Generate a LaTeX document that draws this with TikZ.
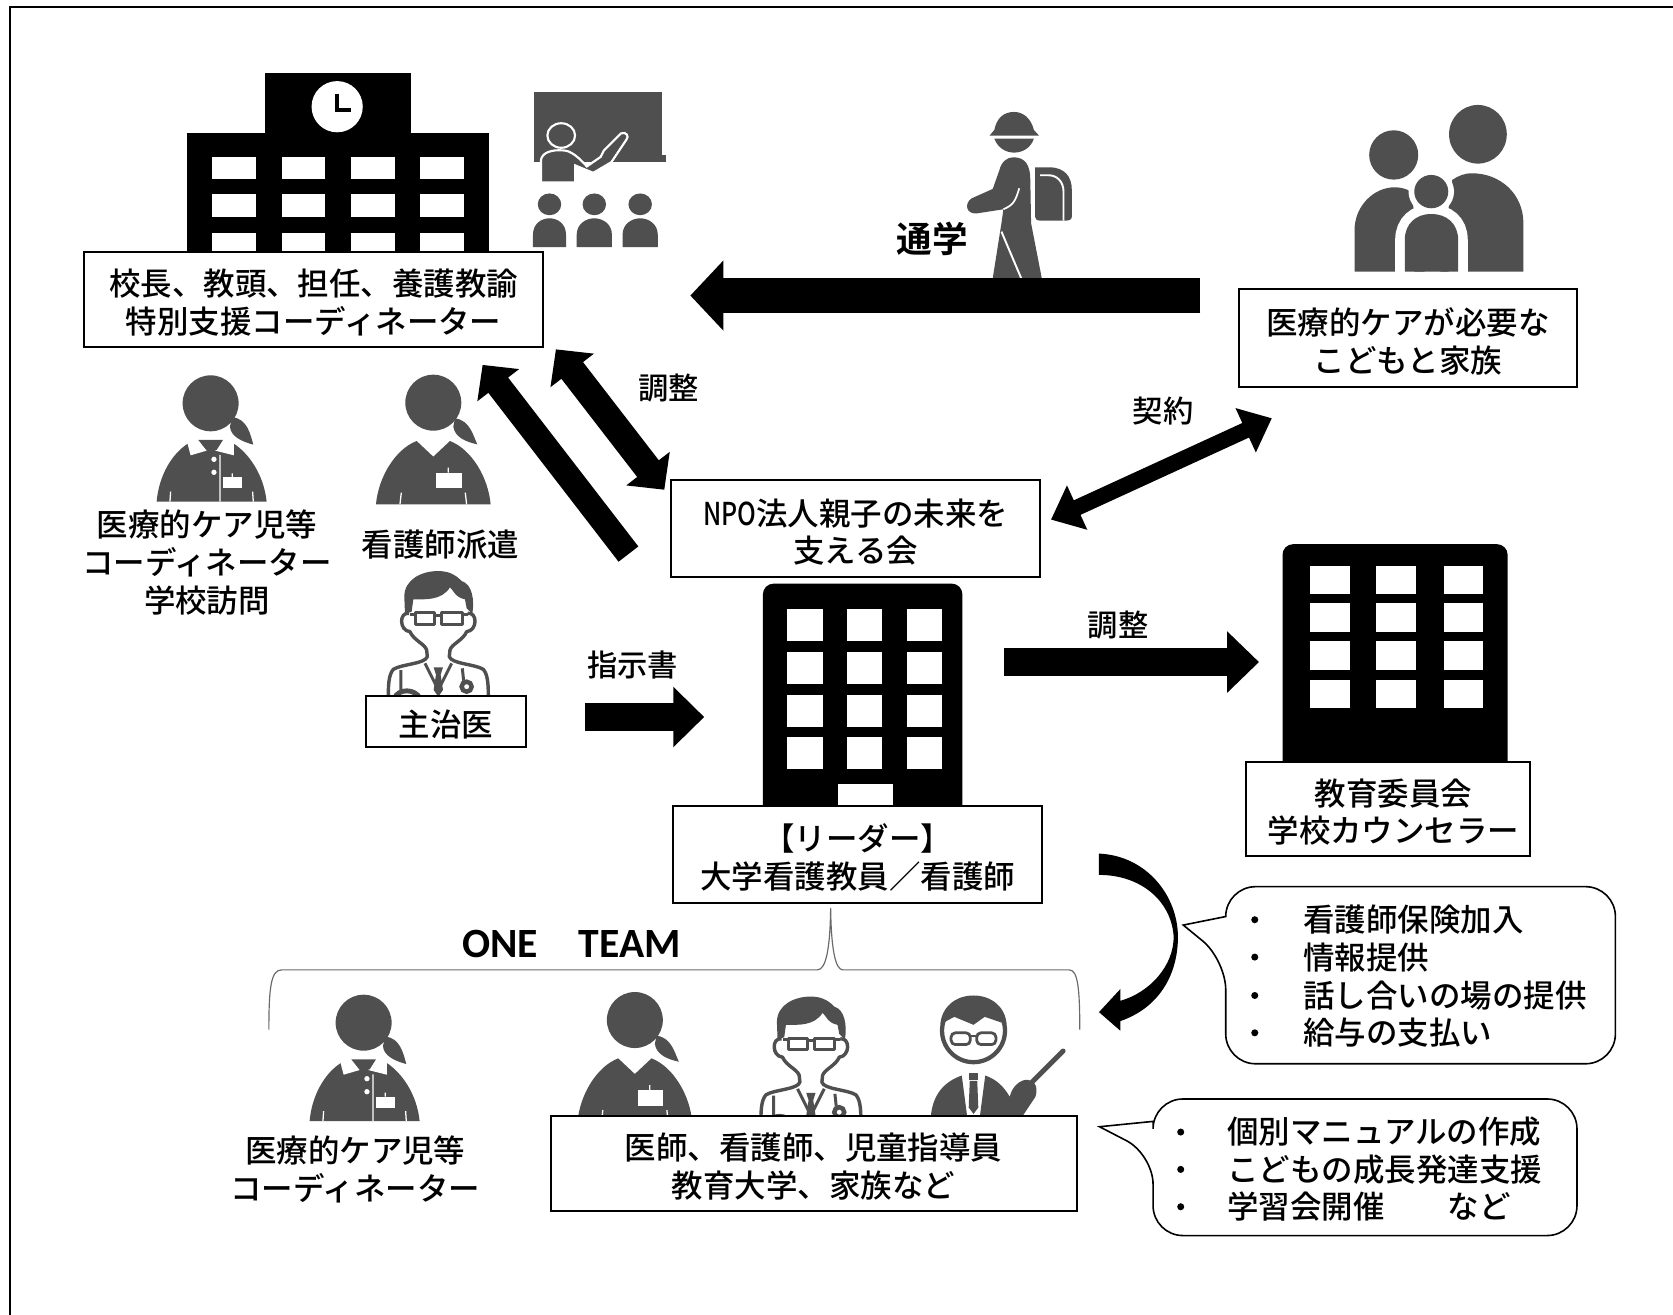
\documentclass[tikz,border=0pt]{standalone}
\usepackage{fontspec}
\usetikzlibrary{arrows.meta}
\newfontfamily\jp{Noto Sans CJK JP Medium}
\newfontfamily\jpb{Noto Sans CJK JP Bold}
\newfontfamily\latinb{Carlito Bold}
\definecolor{ic}{HTML}{4F4F4F}
\definecolor{bracec}{HTML}{6A6A6A}
\newcommand{\dn}{\rule{0pt}{15.6pt}}
\tikzset{
  txt/.style={font=\jp\fontsize{14.75}{17.75}\selectfont,align=center,inner sep=0pt,text=black},
  lab/.style={font=\jp\fontsize{14.2}{17}\selectfont,inner sep=0pt},
  boxn/.style={draw=black,fill=white,line width=0.9pt,inner sep=0pt,font=\jp\fontsize{14.75}{17.75}\selectfont,align=center},
  barrowbase/.style={line cap=butt,draw=black},
  bubble/.style={draw=black,fill=white,line width=0.75pt},
  whiteline/.style={draw=white,line width=0.6pt},
  nursev/.pic={
    \begin{scope}[scale=.3124]
    \fill[ic] (0,0) circle[radius=84];
    \fill[ic] (65,47) .. controls (110,52) and (120,100) .. (132,125) .. controls (100,118) and (65,105) .. (60,72) -- cycle;
    \fill[ic] (-172,305) .. controls (-165,225) and (-115,140) .. (-50,115) -- (0,162) -- (50,115) .. controls (115,140) and (165,225) .. (172,305) -- cycle;
    \draw[whiteline] (-100,305) -- (-96,270) (100,305) -- (96,270) (45,195) -- (45,210);
    \fill[white] (8,210) rectangle (85,257);
    \end{scope}
  },
  nursec/.pic={
    \begin{scope}[scale=.3124]
    \fill[ic] (0,0) circle[radius=84];
    \fill[ic] (65,42) .. controls (110,45) and (120,95) .. (128,124) .. controls (95,115) and (60,100) .. (58,70) -- cycle;
    \fill[ic] (-162,295) .. controls (-155,215) and (-115,150) .. (-67,120) -- (68,120) .. controls (115,150) and (160,215) .. (168,295) -- cycle;
    \fill[white] (-70,118) -- (-38,108) -- (-12,142) -- (-60,156) -- cycle;
    \fill[white] (70,118) -- (38,108) -- (14,142) -- (70,156) -- cycle;
    \fill[white] (-40,108) rectangle (40,120);
    \fill[ic] (-37,110) -- (37,110) -- (18,140) -- (-12,140) -- cycle;
    \fill[white] (10,168) circle[radius=8] (10,207) circle[radius=8];
    \draw[whiteline] (28,155) -- (28,295) (65,210) -- (65,222) (-122,295) -- (-120,265) (128,295) -- (126,265);
    \fill[white] (38,222) rectangle (93,255);
    \end{scope}
  },
  doctor/.pic={
    \begin{scope}[scale=.3124]
    \draw[ic,line width=1.6pt,line join=round,fill=white] (-88,20) .. controls (-118,15) and (-118,72) .. (-85,75) .. controls (-75,100) and (-40,112) .. (-35,130) -- (-33,150) .. controls (-40,172) and (-110,172) .. (-135,188) .. controls (-150,205) and (-150,240) .. (-150,275) -- (150,275) .. controls (150,240) and (150,205) .. (135,188) .. controls (110,172) and (40,172) .. (33,150) -- (35,130) .. controls (40,112) and (75,100) .. (85,75) .. controls (118,72) and (118,15) .. (88,20);
    \fill[ic] (-100,22) -- (-102,-30) .. controls (-102,-82) and (-50,-107) .. (0,-107) .. controls (40,-107) and (60,-87) .. (70,-77) .. controls (102,-67) and (109,-20) .. (102,22) -- (85,5) -- (80,-22) .. controls (50,-28) and (45,-50) .. (35,-58) .. controls (10,-18) and (-40,-22) .. (-75,-22) -- (-80,15) -- cycle;
    \draw[ic,line width=1.4pt,line join=round] (-68,18) rectangle (-10,53) (10,18) rectangle (72,53) (-10,26) -- (10,26) (-85,22) -- (-68,22) (72,22) -- (88,22);
    \draw[ic,line width=1.4pt] (-40,170) -- (-5,240) (40,170) -- (5,240) (-112,190) -- (-112,250);
    \fill[ic] (-14,182) -- (14,182) -- (7,204) -- (14,250) -- (0,270) -- (-14,250) -- (-7,204) -- cycle;
    \draw[ic,line width=2.3pt] (-132,275) .. controls (-120,245) and (-70,245) .. (-55,275);
    \draw[ic,line width=2.1pt] (85,240) circle[radius=15];
    \draw[ic,line width=1.4pt] (72,185) -- (76,222);
    \end{scope}
  },
  teacher/.pic={
    \draw[ic,line width=2pt,fill=white] (0,0) circle[radius=29.5];
    \fill[ic] (-31,-6) .. controls (-30,-22) and (-17,-33) .. (0,-33) .. controls (17,-33) and (30,-22) .. (31,-6) -- (10.5,-13) -- (0,-5.5) -- (-18,-13) -- cycle;
    \draw[ic,line width=1.3pt,fill=white,rounded corners=2pt] (-21,2) rectangle (-3,13) (3,2) rectangle (21,13);
    \draw[ic,line width=1.1pt] (-3,5) -- (3,5);
    \fill[ic] (-40,80) .. controls (-38,60) and (-28,48) .. (-11,42) -- (-6,80) -- cycle;
    \fill[ic] (11,42) .. controls (22,46) and (28,52) .. (34,62) .. controls (36,52) and (44,46) .. (50,46) .. controls (60,47) and (60,56) .. (58,62) -- (46,80) -- (6,80) -- cycle;
    \draw[ic,line width=2.3pt,line cap=round] (53,50) -- (84,19);
    \fill[ic] (-4.5,40) rectangle (4.5,46);
    \fill[ic] (-3.5,47) -- (3.5,47) -- (4.5,72) -- (0,78) -- (-4.5,72) -- cycle;
  },
}
\begin{document}
\begin{tikzpicture}[x=0.5pt,y=-0.5pt,line join=miter]
\useasboundingbox (0,0) rectangle (1568,1232);
\fill[white] (0,0) rectangle (1568,1232);
% frame (top and left only)
\draw[black,line width=0.9pt] (9.7,1232) -- (9.7,6.8) -- (1568,6.8);

% ---- school
\fill[black] (248,68) rectangle (385,125);
\fill[black] (175,125) rectangle (458,245);
\fill[white] (316,100) circle[radius=24];
\draw[black,line width=1.6pt] (316,88) -- (316,103) -- (329,103);
\foreach \xa in {199,264,329,394}{
  \fill[white] (\xa,147) rectangle ++(41,21);
  \fill[white] (\xa,182) rectangle ++(41,21);
  \fill[white] (\xa,218) rectangle ++(41,21);
}
% ---- blackboard and class
\fill[ic] (500.5,86.5) rectangle (620.5,152);
\fill[ic] (620,145) rectangle (624.5,152);
\draw[white,line width=1pt,fill=ic] (507,171) -- (507,150) .. controls (508,143) and (517,140) .. (528,141) .. controls (535,141) and (543,148) .. (550,156) -- (563,147) -- (566,141) -- (582,125) .. controls (587,123) and (590,128) .. (587,131) -- (573,152) -- (556,162) -- (539,155) -- (539,171) -- cycle;
\draw[white,line width=1pt,fill=ic] (526,127) circle[x radius=13,y radius=11.5];
\fill[white] (505,171) rectangle (541,172.5);
\foreach \xa/\wa in {515/15.5,557/16.5,600/16.5}{
  \fill[ic] (\xa,191.5) circle[x radius=11,y radius=10.2];
  \fill[ic] (\xa-\wa,231.7) -- (\xa-\wa,220) .. controls (\xa-\wa,210) and (\xa-8,204.6) .. (\xa,204.6) .. controls (\xa+8,204.6) and (\xa+\wa,210) .. (\xa+\wa,220) -- (\xa+\wa,231.7) -- cycle;
}
% ---- walking pupil
\begin{scope}[shift={(890.4,84.3)},xscale=.3706,yscale=.3124]
  \fill[ic] (100,137) -- (225,137) -- (212,120) .. controls (205,85) and (185,66) .. (162,66) .. controls (135,66) and (118,85) .. (112,120) -- cycle;
  \fill[ic] (112,146) -- (212,146) .. controls (205,172) and (185,188) .. (162,188) .. controls (140,188) and (120,172) .. (112,146) -- cycle;
  \fill[ic] (160,202) .. controls (190,202) and (203,225) .. (203,270) -- (205,400) -- (232,565) -- (108,565) -- (130,400) -- (135,358) -- (70,370) .. controls (40,375) and (35,340) .. (55,325) -- (108,297) -- (125,240) .. controls (130,215) and (145,202) .. (160,202) -- cycle;
  \draw[white,line width=0.8pt] (175,295) .. controls (165,335) and (160,345) .. (135,358);
  \draw[white,line width=0.9pt] (130,425) -- (180,565);
  \fill[ic] (215,232) -- (250,232) .. controls (290,232) and (308,260) .. (308,300) -- (308,380) .. controls (308,390) and (300,392) .. (292,392) -- (228,392) .. controls (220,392) and (215,388) .. (215,380) -- cycle;
  \draw[white,line width=0.9pt] (228,256) -- (250,256) .. controls (270,256) and (287,275) .. (287,305) -- (287,392);
\end{scope}
% ---- family
\begin{scope}[shift={(890.4,84.3)},xscale=.3706,yscale=.3124]
  \fill[ic] (1335,133) circle[x radius=73,y radius=88];
  \fill[ic] (1122,195) circle[x radius=62,y radius=74];
  \fill[ic] (1023,545) -- (1023,420) .. controls (1023,350) and (1070,292) .. (1125,292) .. controls (1140,292) and (1155,297) .. (1165,305) -- (1200,545) -- cycle;
  \fill[ic] (1450,545) -- (1450,400) .. controls (1450,310) and (1390,250) .. (1320,250) .. controls (1300,250) and (1285,258) .. (1270,270) -- (1240,545) -- cycle;
  \draw[white,line width=9pt] (1150,560) -- (1150,450) .. controls (1150,400) and (1180,372) .. (1217,372) .. controls (1255,372) and (1285,400) .. (1285,450) -- (1285,560);
  \fill[white] (1120,546) rectangle (1320,575);
  \fill[ic] (1150,545) -- (1150,450) .. controls (1150,400) and (1180,372) .. (1217,372) .. controls (1255,372) and (1285,400) .. (1285,450) -- (1285,545) -- cycle;
  \draw[white,line width=5pt] (1217,305) circle[x radius=44,y radius=51];
  \fill[ic] (1217,305) circle[x radius=43,y radius=50];
\end{scope}

% ---- central building
\fill[black,rounded corners=5pt] (715,547) -- (902,547) -- (902,770) -- (715,770) -- cycle;
\foreach \xa in {738,794,850}{
  \foreach \ya in {571,611,651,691}{
    \fill[white] (\xa,\ya) rectangle ++(33,30);
  }
}
\fill[white] (785,735) rectangle (837,760);
% ---- right building
\fill[black,rounded corners=5pt] (1202,510) -- (1413,510) -- (1413,730) -- (1202,730) -- cycle;
\foreach \xa in {1228,1290,1353}{
  \foreach \ya in {530,565,601,637}{
    \fill[white] (\xa,\ya) rectangle ++(37,27);
  }
}

% ---- people
\pic at (197.4,378) {nursec};
\pic at (406.1,377.4) {nursev};
\pic at (410.8,568.6) {doctor};
\pic at (340.8,958.5) {nursec};
\pic at (595,956) {nursev};
\pic at (760,967.4) {doctor};
\pic at (912.4,966) {teacher};

% ---- boxes
\node[boxn,minimum width=215pt,minimum height=44.5pt] (principal) at (294,280.5) {\dn 校長、教頭、担任、養護教諭\\特別支援コーディネーター};
\node[boxn,minimum width=158.5pt,minimum height=46pt] (family) at (1319.5,317) {\dn 医療的ケアが必要な\\こどもと家族};
\node[boxn,minimum width=173pt,minimum height=45.5pt] (npo) at (802,495.5) {\dn\scalebox{.79}[1]{NPO}法人親子の未来を\\支える会};
\node[boxn,minimum width=75pt,minimum height=24pt] (attending) at (418,676) {\dn 主治医};
\node[boxn,minimum width=173pt,minimum height=45.5pt] (leader) at (804,800.5) {\dn【リーダー】\\大学看護教員／看護師};
\node[boxn,minimum width=133pt,minimum height=44pt] (board) at (1301,758) {\dn\hspace*{5pt}教育委員会\\\hspace*{5pt}学校カウンセラー};
\node[boxn,minimum width=246.5pt,minimum height=44.5pt] (team) at (762.5,1090.5) {\dn 医師、看護師、児童指導員\\教育大学、家族など};

% ---- plain labels
\node[txt] (visit) at (194,527) {医療的ケア児等\\コーディネーター\\学校訪問};
\node[txt] (dispatch) at (413,510) {看護師派遣};
\node[txt] (teamcoord) at (333,1096) {医療的ケア児等\\コーディネーター};
\node[lab,font=\jpb\fontsize{16.7}{20}\selectfont] (commute) at (874,224) {通学};
\node[lab] (adj1) at (627,364) {調整};
\node[lab] (contract) at (1090,385) {契約};
\node[lab] (adj2) at (1048,586) {調整};
\node[lab] (instr) at (593,623) {指示書};
\node[inner sep=0pt,font=\latinb\fontsize{19.5}{22}\selectfont] (oneteam) at (535.5,885) {ONE\hspace{19pt}TEAM};

% ---- connector coordinates
\coordinate (c1a) at (1125,277); \coordinate (c1b) at (647,277);
\coordinate (c2a) at (521,327.4); \coordinate (c2b) at (622.6,459);
\coordinate (c3a) at (589,519.3); \coordinate (c3b) at (452.3,342);
\coordinate (c4a) at (548,672); \coordinate (c4b) at (660,672);
\coordinate (c5a) at (941,620.5); \coordinate (c5b) at (1180,620.5);
\coordinate (c6a) at (985,487); \coordinate (c6b) at (1192,392);
\draw[barrowbase,line width=16pt,-{Triangle[length=15.5pt,width=32pt]}] (c1a) -- (c1b);
\draw[barrowbase,line width=12.8pt,{Triangle[length=12.5pt,width=25pt]}-{Triangle[length=12.5pt,width=25pt]}] (c2a) -- (c2b);
\draw[barrowbase,line width=11.7pt,-{Triangle[length=12pt,width=24pt]}] (c3a) -- (c3b);
\draw[barrowbase,line width=13pt,-{Triangle[length=14.5pt,width=27.5pt]}] (c4a) -- (c4b);
\draw[barrowbase,line width=13.5pt,-{Triangle[length=15pt,width=28pt]}] (c5a) -- (c5b);
\draw[barrowbase,line width=7.5pt,{Triangle[length=13.5pt,width=22pt]}-{Triangle[length=13.5pt,width=22pt]}] (c6a) -- (c6b);
% curved arrow
\coordinate (c7a) at (1030,800); \coordinate (c7b) at (1030,948.6);
\fill[black] (c7a) .. controls (1075,802) and (1104,840) .. (1104,878) .. controls (1104,915) and (1085,945) .. (1050,957) -- (1050,966) -- (c7b) -- (1050,927) -- (1050,938) .. controls (1078,930) and (1100,905) .. (1100,878) .. controls (1098,845) and (1070,820) .. (1030,820) -- cycle;

% ---- brace
\coordinate (bracetop) at (778.5,851);
\draw[bracec,line width=0.55pt] (252,965) .. controls (252,925) and (254,909) .. (264,909) -- (766,909) .. controls (774,909) and (778,890) .. (bracetop) .. controls (779,890) and (783,909) .. (790,909) -- (1002,909) .. controls (1010,909) and (1012,925) .. (1012,965);

% ---- speech bubbles
\draw[bubble,rounded corners=14pt] (1300,831) -- (1514,831) -- (1514,997) -- (1148.8,997) -- (1148.8,899.6) [sharp corners] -- (1109,867) -- (1148.8,859) [rounded corners=14pt] -- (1148.8,831) -- cycle;
\draw[bubble,rounded corners=14pt] (1300,1030) -- (1478,1030) -- (1478,1158) -- (1080.7,1158) -- (1080.7,1082) [sharp corners] -- (1030.5,1056) -- (1080.7,1051) [rounded corners=14pt] -- (1080.7,1030) -- cycle;
\foreach \ya/\tb/\nm in {862/看護師保険加入/a,897/情報提供/b,933/話し合いの場の提供/c,968/給与の支払い/d}{
  \fill[black] (1176,\ya) circle[radius=3.3];
  \node[txt,anchor=west] (sup\nm) at (1221,\ya) {\tb};
}
\foreach \ya/\tb/\nm in {1061/個別マニュアルの作成/a,1096/こどもの成長発達支援/b,1131/学習会開催　　など/c}{
  \fill[black] (1106.6,\ya) circle[radius=3.3];
  \node[txt,anchor=west] (ind\nm) at (1150,\ya) {\tb};
}
\end{tikzpicture}
\end{document}
